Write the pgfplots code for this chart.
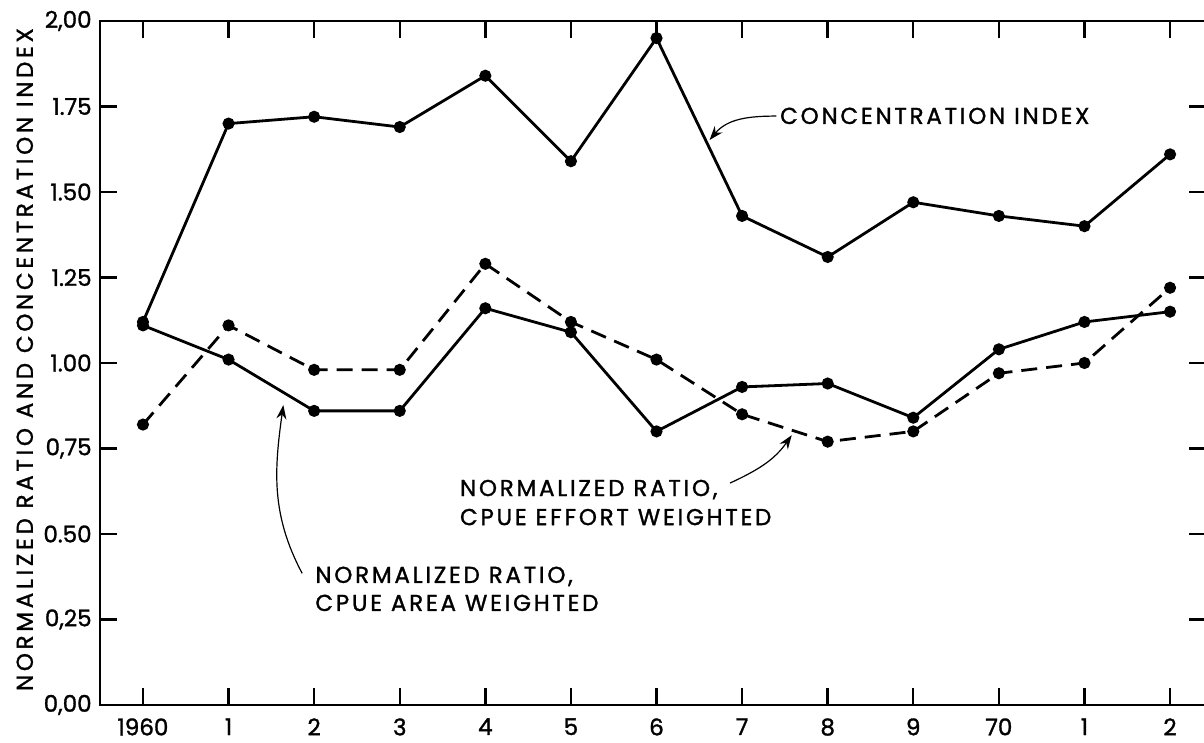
\documentclass[border=0pt]{standalone}
\usepackage{pgfplots}
\pgfplotsset{compat=1.18}
\usepackage{fontspec}
\setmainfont{Poppins}[FakeBold=1.3]
\newfontfamily\lbl{Poppins}[LetterSpace=12, FakeBold=1.3]
\newfontfamily\ylbl{Poppins}[LetterSpace=16, FakeBold=1.3]
\usetikzlibrary{arrows.meta}
\begin{document}
\begin{tikzpicture}
\begin{axis}[
  scale only axis, width=553pt, height=342pt,
  xmin=1959.498, xmax=1972.42, ymin=0, ymax=2,
  xtick={1960,1961,1962,1963,1964,1965,1966,1967,1968,1969,1970,1971,1972},
  xticklabels={1960,1,2,3,4,5,6,7,8,9,70,1,2},
  ytick={0,0.25,0.5,0.75,1,1.25,1.5,1.75,2},
  yticklabels={{0,00},{0,25},{0.50},{0,75},{1.00},{1.25},{1.50},{1.75},{2,00}},
  tick align=inside, major tick length=8.5pt,
  tick style={line width=1.2pt, black},
  axis line style={line width=1.3pt},
  xticklabel style={font=\fontsize{11.5}{13}\selectfont, inner sep=0pt, anchor=north, yshift=-6.5pt},
  yticklabel style={font=\fontsize{11.5}{13}\selectfont, inner sep=0pt, anchor=east, xshift=-4pt},
  every axis y label/.style={at={(axis description cs:-0.068,0.505)}, rotate=90, anchor=center, font=\ylbl\fontsize{11.5}{13}\selectfont},
  ylabel={NORMALIZED RATIO AND CONCENTRATION INDEX},
  clip=false,
]
% Concentration index
\addplot[black, line width=1.4pt, mark=*, mark size=2.3pt] coordinates {
(1960,1.12) (1961,1.70) (1962,1.72) (1963,1.69) (1964,1.84) (1965,1.59) (1966,1.95)
(1967,1.43) (1968,1.31) (1969,1.47) (1970,1.43) (1971,1.40) (1972,1.61)};
% Normalized ratio, CPUE area weighted
\addplot[black, line width=1.4pt, mark=*, mark size=2.3pt] coordinates {
(1960,1.11) (1961,1.01) (1962,0.86) (1963,0.86) (1964,1.16) (1965,1.09) (1966,0.80)
(1967,0.93) (1968,0.94) (1969,0.84) (1970,1.04) (1971,1.12) (1972,1.15)};
% Normalized ratio, CPUE effort weighted
\addplot[black, line width=1.4pt, dash pattern=on 8pt off 4.5pt, mark=*, mark size=2.3pt, mark options={solid}] coordinates {
(1960,0.82) (1961,1.11) (1962,0.98) (1963,0.98) (1964,1.29) (1965,1.12) (1966,1.01)
(1967,0.85) (1968,0.77) (1969,0.80) (1970,0.97) (1971,1.00) (1972,1.22)};

% annotations
\node[anchor=base west, inner sep=0pt, font=\lbl\fontsize{11.5}{13}\selectfont] at (axis cs:1967.44,1.699) {CONCENTRATION INDEX};
\draw[line width=0.6pt, -{Stealth[length=7pt,width=5pt]}] (axis cs:1967.40,1.722) to[out=180,in=50] (axis cs:1966.62,1.652);

\node[anchor=base west, inner sep=0pt, font=\lbl\fontsize{11.5}{13}\selectfont] at (axis cs:1963.70,0.611) {NORMALIZED RATIO,};
\node[anchor=base west, inner sep=0pt, font=\lbl\fontsize{11.5}{13}\selectfont] at (axis cs:1963.70,0.526) {CPUE EFFORT WEIGHTED};
\draw[line width=0.6pt, -{Stealth[length=7pt,width=5pt]}] (axis cs:1966.86,0.649) to[out=25,in=235] (axis cs:1967.58,0.789);

\node[anchor=base west, inner sep=0pt, font=\lbl\fontsize{11.5}{13}\selectfont] at (axis cs:1962.01,0.357) {NORMALIZED RATIO,};
\node[anchor=base west, inner sep=0pt, font=\lbl\fontsize{11.5}{13}\selectfont] at (axis cs:1962.01,0.275) {CPUE AREA WEIGHTED};
\draw[line width=0.6pt, -{Stealth[length=7pt,width=5pt]}] (axis cs:1961.86,0.385) to[out=118,in=262] (axis cs:1961.64,0.877);
\end{axis}
\pgfresetboundingbox
\path[use as bounding box] (-50pt,-19pt) rectangle (552pt,352.5pt);
\end{tikzpicture}
\end{document}
